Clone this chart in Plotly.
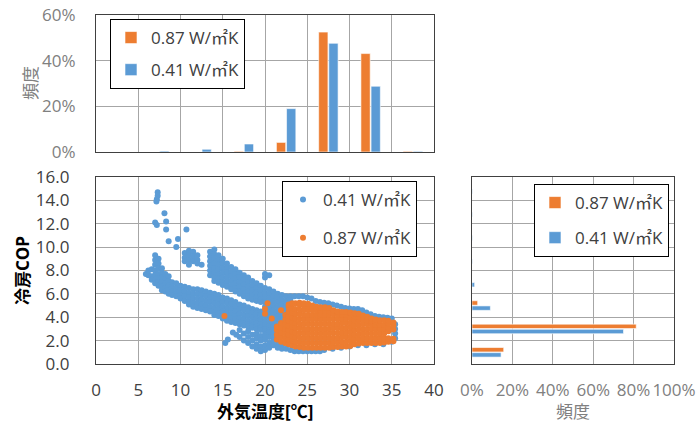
import plotly.graph_objects as go

# ---------------- data ----------------
temp_bins = [2.5, 7.5, 12.5, 17.5, 22.5, 27.5, 32.5, 37.5]
freq_t_087 = [0.0, 0.0, 0.0, 0.003, 0.042, 0.525, 0.431, 0.003]
freq_t_041 = [0.0, 0.004, 0.012, 0.035, 0.190, 0.476, 0.288, 0.003]

cop_bins = [1, 3, 5, 7, 9, 11, 13, 15]
freq_c_087 = [0.157, 0.813, 0.028, 0.0, 0.0, 0.0, 0.0, 0.0]
freq_c_041 = [0.144, 0.750, 0.091, 0.013, 0.002, 0.002, 0.002, 0.002]

# scatter, read column by column: (outdoor temp, [COP values])
blue_cols = [
    (5.9, [7.7]), (6.2, [7.6, 8.0]), (6.6, [8.1, 7.5, 7.2]),
    (7.0, [12.1, 9.3, 8.9, 8.5, 8.0, 7.6, 7.2, 6.9]),
    (7.2, [14.1, 11.9]), (7.3, [14.7, 14.4]), (7.15, [13.9]),
    (7.4, [9.0, 8.6, 8.2, 7.7, 7.3, 7.0, 6.7]),
    (7.8, [8.2, 7.8, 7.4, 7.0, 6.6, 6.3]),
    (8.1, [12.9]), (8.3, [12.2, 11.5]),
    (8.2, [7.7, 7.3, 6.9, 6.5, 6.2]),
    (8.6, [10.5, 7.5, 7.1, 6.7, 6.3, 6.0]),
    (9.0, [7.0, 6.6, 6.2, 5.9]),
    (9.5, [10.0, 6.9, 6.5, 6.1, 5.8]), (9.7, [10.7]),
    (10.0, [6.7, 6.3, 5.9, 5.6]),
    (10.5, [9.5, 9.1, 8.8, 6.6, 6.2, 5.8, 5.4]), (10.7, [11.5]),
    (11.0, [9.7, 9.3, 8.9, 8.5, 6.5, 6.1, 5.7, 5.3, 5.1]),
    (11.5, [9.6, 9.2, 8.8, 6.4, 6.0, 5.6, 5.2, 4.9]),
    (12.0, [9.3, 8.9, 8.6, 6.4, 6.0, 5.6, 5.2, 4.8]),
    (12.5, [8.5, 6.3, 5.9, 5.5, 5.1, 4.7]),
    (13.0, [6.2, 5.8, 5.4, 5.0, 4.6]),
    (13.5, [9.6, 9.2, 8.8, 8.4, 8.0, 7.6, 6.1, 5.7, 5.3, 4.9, 4.5]),
    (14.0, [9.8, 9.4, 9.0, 8.6, 8.2, 7.8, 7.4, 7.1, 6.0, 5.6, 5.2, 4.8, 4.4, 4.2]),
    (14.5, [9.3, 8.9, 8.5, 8.1, 7.7, 7.3, 6.95, 5.9, 5.5, 5.1, 4.7, 4.3, 4.1]),
    (15.0, [9.0, 8.6, 8.2, 7.8, 7.4, 7.0, 6.75, 5.7, 5.3, 4.9, 4.5, 4.1, 3.9]),
    (15.3, [1.8]), (15.6, [2.1]),
    (15.5, [8.6, 8.2, 7.8, 7.4, 7.0, 6.6, 5.6, 5.2, 4.8, 4.4, 4.0, 3.7]),
    (16.0, [8.3, 7.9, 7.5, 7.1, 6.7, 6.4, 5.45, 5.1, 4.7, 4.3, 3.9, 3.6]),
    (16.2, [2.7]), (16.6, [2.5]),
    (16.5, [8.1, 7.7, 7.3, 6.9, 6.5, 6.2, 5.3, 4.9, 4.5, 4.1, 3.8, 3.5]),
    (17.0, [7.8, 7.4, 7.0, 6.6, 6.2, 6.0, 5.1, 4.7, 4.3, 3.9, 3.6, 3.4, 2.9, 2.3]),
    (17.5, [7.6, 7.2, 6.8, 6.4, 6.0, 5.8, 5.0, 4.6, 4.2, 3.8, 3.5, 3.3, 2.6, 2.0]),
    (18.0, [7.4, 7.0, 6.6, 6.2, 5.8, 5.6, 4.85, 4.5, 4.1, 3.7, 3.4, 3.2, 2.8, 2.3, 1.8]),
    (18.5, [7.1, 6.7, 6.3, 5.9, 5.5, 4.7, 4.4, 4.0, 3.6, 3.3, 3.1, 2.5, 2.0, 1.5]),
    (19.0, [6.9, 6.5, 6.1, 5.7, 5.4, 4.6, 4.3, 3.9, 3.5, 3.2, 3.0, 2.6, 2.2, 1.7, 1.3]),
    (19.5, [6.7, 6.3, 5.9, 5.5, 5.3, 4.5, 4.2, 3.8, 3.4, 3.1, 2.9, 2.4, 2.0, 1.5, 1.1]),
    (20.0, [7.7, 7.4, 6.5, 6.1, 5.7, 5.3, 4.9, 4.5, 4.1, 3.7, 3.3, 3.0, 2.8, 2.5, 2.1, 1.6, 1.2]),
    (20.5, [7.6, 6.4, 6.0, 5.6, 5.2, 4.8, 4.4, 4.0, 3.6, 3.2, 2.9, 2.7, 2.3, 1.8, 1.4]),
    (21.0, [6.2, 5.8, 5.4, 5.0, 4.6, 4.2, 3.9, 3.5, 3.2, 2.9, 2.6, 2.3, 2.0, 1.6]),
    (21.5, [6.0, 5.7, 5.3, 4.9, 4.5, 4.1, 3.8, 3.4, 3.1, 2.8, 2.5, 1.7, 1.4]),
    (22.0, [5.9, 5.5, 5.1, 4.7, 4.3, 3.9, 3.7, 3.3, 1.6, 1.3]),
    (22.5, [5.8, 5.4, 5.0, 4.6, 4.2, 1.3]),
    (23.0, [5.8, 5.5, 1.2]), (23.5, [5.8, 1.1]), (24.0, [5.8, 1.1]),
    (24.5, [5.8, 1.1]), (25.0, [5.7, 1.1]), (25.5, [5.6, 1.1]),
    (26.0, [5.4, 1.1]), (26.5, [5.3, 1.1]), (27.0, [5.25, 1.2]),
    (27.5, [5.2]), (28.0, [5.1, 1.3]), (28.5, [5.0]), (29.0, [4.9, 1.4]),
    (29.5, [4.8]), (30.0, [4.75, 1.5]), (30.5, [4.7]), (31.0, [4.7, 1.6]),
    (31.5, [4.6]), (32.0, [4.4, 1.6]), (32.5, [4.25]), (33.0, [4.1, 1.7]),
    (33.5, [4.05]), (34.0, [4.0, 1.7]), (34.5, [3.95]), (35.0, [3.9, 1.9]),
    (35.4, [3.4, 3.0, 2.6, 2.2]),
]

orange_cols = [
    (15.2, [4.1]), (20.0, [4.3, 4.7]), (20.3, [5.2]), (20.8, [3.9]),
    (21.4, [2.1, 2.5, 2.9, 3.2]),
    (21.9, [1.9, 2.3, 2.7, 3.1, 3.5, 4.6]),
    (22.4, [1.8, 2.2, 2.6, 3.0, 3.4, 3.8, 4.2]),
    (22.8, [1.7, 2.1, 2.5, 2.9, 3.3, 3.7, 4.1, 4.5, 4.9, 5.1]),
    (23.2, [1.6, 2.0, 2.4, 2.8, 3.2, 3.6, 4.0, 4.4, 4.8, 5.2]),
    (23.6, [1.5, 1.9, 2.3, 2.7, 3.1, 3.5, 3.9, 4.3, 4.7, 5.2]),
    (24.1, [1.45, 1.85, 2.25, 2.65, 3.05, 3.45, 3.85, 4.25, 4.65, 5.05, 5.25]),
    (24.6, [1.4, 1.8, 2.2, 2.6, 3.0, 3.4, 3.8, 4.2, 4.6, 5.0, 5.2]),
    (25.1, [1.4, 1.8, 2.2, 2.6, 3.0, 3.4, 3.8, 4.2, 4.6, 4.95, 5.15]),
    (25.6, [1.4, 1.8, 2.2, 2.6, 3.0, 3.4, 3.8, 4.2, 4.6, 5.0]),
    (26.1, [1.4, 1.8, 2.2, 2.6, 3.0, 3.4, 3.8, 4.2, 4.55, 4.9]),
    (26.6, [1.4, 1.8, 2.2, 2.6, 3.0, 3.4, 3.8, 4.2, 4.5, 4.85]),
    (27.1, [1.4, 1.8, 2.2, 2.6, 3.0, 3.4, 3.8, 4.2, 4.5, 4.85]),
    (27.6, [1.4, 1.8, 2.2, 2.6, 3.0, 3.4, 3.8, 4.2, 4.5, 4.8]),
    (28.1, [1.45, 1.85, 2.25, 2.65, 3.05, 3.45, 3.85, 4.25, 4.6]),
    (28.6, [1.45, 1.85, 2.25, 2.65, 3.05, 3.45, 3.85, 4.2, 4.5]),
    (29.1, [1.5, 1.9, 2.3, 2.7, 3.1, 3.5, 3.9, 4.2, 4.45]),
    (29.6, [1.5, 1.9, 2.3, 2.7, 3.1, 3.5, 3.9, 4.2, 4.45]),
    (30.1, [1.55, 1.95, 2.35, 2.75, 3.15, 3.55, 3.95, 4.4]),
    (30.6, [1.7, 2.1, 2.5, 2.9, 3.3, 3.7, 4.05, 4.35]),
    (31.1, [1.75, 2.15, 2.55, 2.95, 3.35, 3.75, 4.05, 4.3]),
    (31.6, [1.8, 2.2, 2.6, 3.0, 3.4, 3.8, 4.15]),
    (32.1, [1.8, 2.2, 2.6, 3.0, 3.4, 3.75, 4.05]),
    (32.6, [1.8, 2.2, 2.6, 3.0, 3.35, 3.65, 3.9]),
    (33.1, [1.8, 2.2, 2.6, 3.0, 3.35, 3.6, 3.8]),
    (33.6, [1.8, 2.2, 2.6, 3.0, 3.35, 3.75]),
    (34.1, [1.85, 2.2, 2.6, 3.0, 3.35, 3.75]),
    (34.6, [1.9, 2.2, 2.8, 3.1, 3.45, 3.7]),
    (35.2, [1.95, 2.15, 2.95, 3.3, 3.55]),
]

temp_ticks = [0, 5, 10, 15, 20, 25, 30, 35, 40]
cop_ticks = [0, 2, 4, 6, 8, 10, 12, 14, 16]
pct_ticks_top = [0, 0.2, 0.4, 0.6]
pct_ticks_right = [0, 0.2, 0.4, 0.6, 0.8, 1.0]
label_087 = "0.87 W/㎡K"
label_041 = "0.41 W/㎡K"

blue_x = [x for x, ys in blue_cols for _ in ys]
blue_y = [y for _, ys in blue_cols for y in ys]
orange_x = [x for x, ys in orange_cols for _ in ys]
orange_y = [y for _, ys in orange_cols for y in ys]

# ---------------- style ----------------
BLUE = "#5B9BD5"
ORANGE = "#ED7D31"
GRID = "#A6A6A6"
BORDER = "#404040"
GRAYTXT = "#808080"
DARKTXT = "#404040"
FONT = "Open Sans, Noto Sans CJK JP, sans-serif"
W, H = 697, 427

def px_x(a, b):
    return [a / W, b / W]

def px_y(top, bottom):
    return [1 - bottom / H, 1 - top / H]

def pos(xp, yp):
    return xp / W, 1 - yp / H

fig = go.Figure()

bar_line = dict(color="white", width=0.6)

# top histogram
fig.add_trace(go.Bar(x=temp_bins, y=freq_t_087, name=label_087, marker=dict(color=ORANGE, line=bar_line),
                     width=1.1, offset=-1.15, xaxis="x", yaxis="y", legend="legend", legendgroup="a"))
fig.add_trace(go.Bar(x=temp_bins, y=freq_t_041, name=label_041, marker=dict(color=BLUE, line=bar_line),
                     width=1.1, offset=0.05, xaxis="x", yaxis="y", legend="legend", legendgroup="b"))

# scatter
fig.add_trace(go.Scatter(x=blue_x, y=blue_y, mode="markers", name=label_041,
                         marker=dict(color=BLUE, size=6, line=dict(width=0)), xaxis="x2", yaxis="y2",
                         legend="legend2", legendgroup="c"))
fig.add_trace(go.Scatter(x=orange_x, y=orange_y, mode="markers", name=label_087,
                         marker=dict(color=ORANGE, size=6, line=dict(width=0)), xaxis="x2", yaxis="y2",
                         legend="legend2", legendgroup="d"))

# right histogram
fig.add_trace(go.Bar(y=cop_bins, x=freq_c_087, orientation="h", name=label_087,
                     marker=dict(color=ORANGE, line=bar_line),
                     width=0.38, offset=0.03, xaxis="x3", yaxis="y3", legend="legend3", legendgroup="e"))
fig.add_trace(go.Bar(y=cop_bins, x=freq_c_041, orientation="h", name=label_041,
                     marker=dict(color=BLUE, line=bar_line),
                     width=0.38, offset=-0.41, xaxis="x3", yaxis="y3", legend="legend3", legendgroup="f"))

axis_common = dict(showline=True, linecolor=BORDER, linewidth=1.2, mirror=True,
                   showgrid=True, gridcolor=GRID, gridwidth=1, zeroline=False,
                   ticks="outside", tickcolor="rgba(0,0,0,0)", automargin=False,
                   ticklabeloverflow="allow")

legend_common = dict(bgcolor="white", bordercolor="#000000", borderwidth=1,
                     font=dict(family=FONT, size=17, color="#404040"),
                     xanchor="left", yanchor="top", itemwidth=30, traceorder="grouped")

lx1, ly1 = pos(110, 19)
lx2, ly2 = pos(282, 181)
lx3, ly3 = pos(534, 184)

def ann(text, xp, yp, color, angle=0):
    ax, ay = pos(xp, yp)
    return dict(text=text, x=ax, y=ay, xref="paper", yref="paper", showarrow=False,
                xanchor="center", yanchor="middle", textangle=angle,
                font=dict(size=17, color=color, family=FONT))

fig.update_layout(
    width=W, height=H,
    margin=dict(l=0, r=0, t=0, b=0),
    paper_bgcolor="white", plot_bgcolor="white",
    barmode="overlay",
    font=dict(family=FONT, size=16, color=DARKTXT),
    xaxis=dict(domain=px_x(96, 434), range=[0, 40], tickvals=temp_ticks, showticklabels=False,
               anchor="y", **axis_common),
    yaxis=dict(domain=px_y(15, 152), range=[0, 0.6], tickvals=pct_ticks_top,
               ticktext=[f"{round(v * 100)}%" for v in pct_ticks_top], ticklen=16,
               tickfont=dict(size=17, color=GRAYTXT), anchor="x", **axis_common),
    xaxis2=dict(domain=px_x(96, 434), range=[0, 40], tickvals=temp_ticks, ticklen=10,
                tickfont=dict(size=17, color=DARKTXT), anchor="y2", **axis_common),
    yaxis2=dict(domain=px_y(177, 364), range=[0, 16], tickvals=cop_ticks, tickformat=".1f", ticklen=22,
                tickfont=dict(size=17, color=DARKTXT), anchor="x2", **axis_common),
    xaxis3=dict(domain=px_x(472, 674), range=[0, 1], tickvals=pct_ticks_right,
                ticktext=[f"{round(v * 100)}%" for v in pct_ticks_right], ticklen=10,
                tickfont=dict(size=17, color=GRAYTXT), anchor="y3", **axis_common),
    yaxis3=dict(domain=px_y(177, 364), range=[0, 16], tickvals=cop_ticks, showticklabels=False,
                anchor="x3", **axis_common),
    legend=dict(x=lx1, y=ly1, tracegroupgap=7, **legend_common),
    legend2=dict(x=lx2, y=ly2, itemsizing="trace", tracegroupgap=13, **legend_common),
    legend3=dict(x=lx3, y=ly3, tracegroupgap=10, **legend_common),
    annotations=[
        ann("頻度", 30, 83, GRAYTXT, -90),
        ann("<b>冷房COP</b>", 22, 271, "#000000", -90),
        ann("<b>外気温度[℃]</b>", 265, 411, "#000000"),
        ann("頻度", 573, 411, GRAYTXT),
    ],
)

fig.write_html("out.html", config={"displayModeBar": False},
               post_script="document.body.style.margin='0';document.body.style.overflow='hidden';")
